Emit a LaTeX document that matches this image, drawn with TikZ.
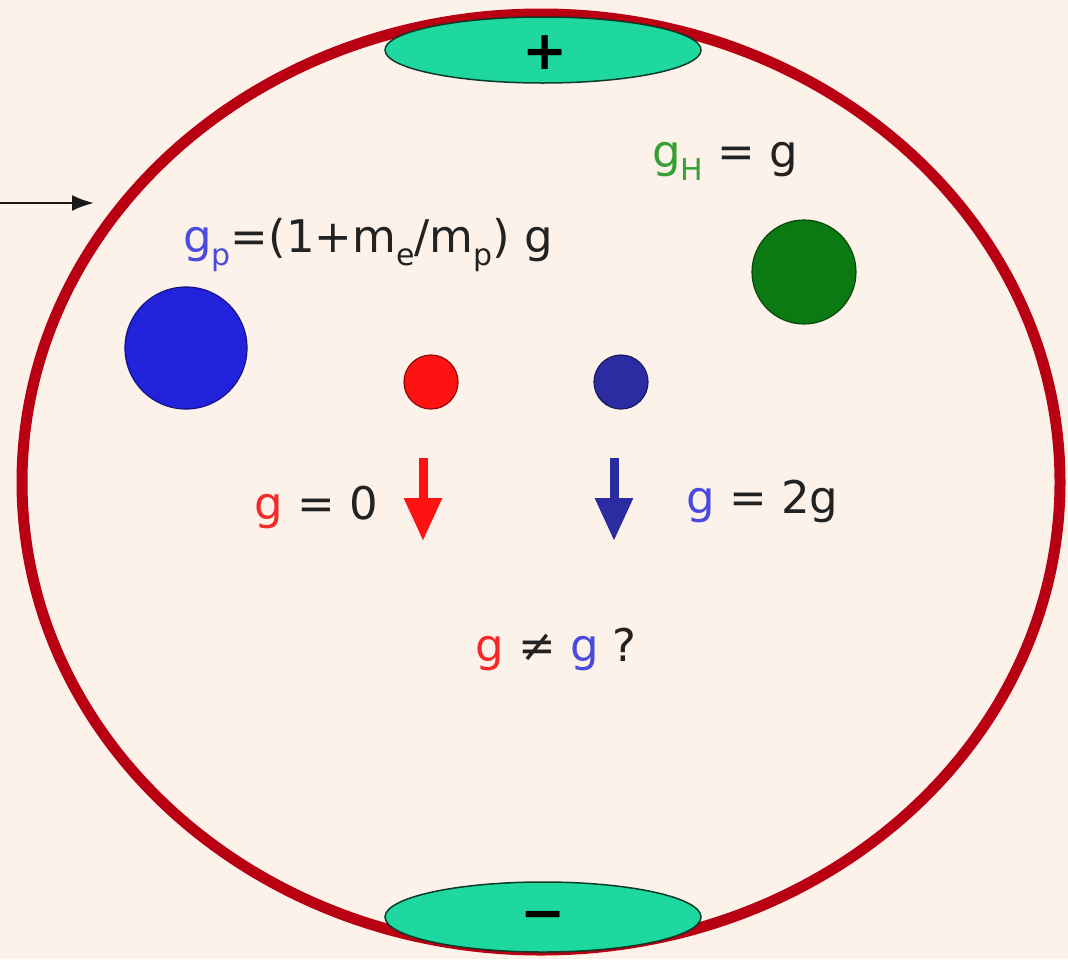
\documentclass[tikz,border=0pt]{standalone}
\usepackage{fontspec}
\setmainfont{DejaVu Sans}
\usetikzlibrary{arrows.meta}
\definecolor{bg}{HTML}{FCF2EA}
\definecolor{ring}{HTML}{B80012}
\definecolor{plate}{HTML}{1FD8A0}
\definecolor{plateline}{HTML}{0A3A28}
\definecolor{tred}{HTML}{F42828}
\definecolor{tblue}{HTML}{4A4AE0}
\definecolor{tgreen}{HTML}{35A035}
\definecolor{tdark}{HTML}{222222}
\definecolor{pblue}{HTML}{2222DC}
\definecolor{pred}{HTML}{FF1212}
\definecolor{pdblue}{HTML}{2C2CA2}
\definecolor{pgreen}{HTML}{0B7A12}
\newcommand\lowsub[1]{\raisebox{-0.3em}{\fontsize{30}{30}\selectfont #1}}
\begin{document}
\begin{tikzpicture}[x=1pt,y=-1pt,
  lbl/.style={inner sep=0pt,text=tdark,font=\fontsize{45}{50}\selectfont},
  plateshape/.style={fill=plate,draw=plateline,line width=1.5pt},
  ball/.style={circle,inner sep=0pt,line width=1.2pt},
  fallarrow/.style={line width=9pt,-{Triangle[length=43pt,width=36pt]}},
  sign/.style={inner sep=0pt,font=\fontsize{54}{54}\bfseries\selectfont,text=black}]
\useasboundingbox[fill=bg] (0,0) rectangle (1068,959);
% outer ring
\draw[ring,line width=11pt] (541,482) ellipse [x radius=519, y radius=468];
% plates
\draw[plateshape] (543,50) ellipse [x radius=158, y radius=33];
\draw[plateshape] (543,917) ellipse [x radius=158, y radius=35];
\node[sign] (plus) at (545,53) {+};
\node[sign] (minus) at (543,921) {−};
% incoming arrow
\coordinate (arrowstart) at (0,203);
\coordinate (arrowend) at (94,203);
\draw[line width=2.5pt,black!90,-{Latex[length=22pt,width=16pt]}] (arrowstart) -- (arrowend);
% particles
\node[ball,fill=pblue,draw=pblue!60!black,minimum size=122pt] (proton) at (186,348) {};
\node[ball,fill=pgreen,draw=pgreen!60!black,minimum size=104pt] (hydrogen) at (804,272) {};
\node[ball,fill=pred,draw=pred!55!black,minimum size=54pt] (positron) at (431,382) {};
\node[ball,fill=pdblue,draw=pdblue!60!black,minimum size=54pt] (antih) at (621,382) {};
% labels
\node[lbl,anchor=base west] (gp) at (183,252) {\textcolor{tblue}{g\lowsub{p}}=(1+m\lowsub{e}/m\lowsub{p}) g};
\node[lbl,anchor=base west] (gh) at (652,167) {\textcolor{tgreen}{g\lowsub{H}} = g};
\node[lbl,anchor=base east] (gzero) at (378,519) {\textcolor{tred}{g} = 0};
\node[lbl,anchor=base west] (gtwo) at (686,513) {\textcolor{tblue}{g} = 2g};
\node[lbl,anchor=base west] (gneq) at (475,661) {\textcolor{tred}{g} ≠ \textcolor{tblue}{g} ?};
% falling arrows
\coordinate (redtop) at (423,458);
\coordinate (redtip) at (423,541);
\coordinate (bluetop) at (614,458);
\coordinate (bluetip) at (614,541);
\draw[fallarrow,pred] (redtop) -- (redtip);
\draw[fallarrow,pdblue] (bluetop) -- (bluetip);
\end{tikzpicture}
\end{document}
